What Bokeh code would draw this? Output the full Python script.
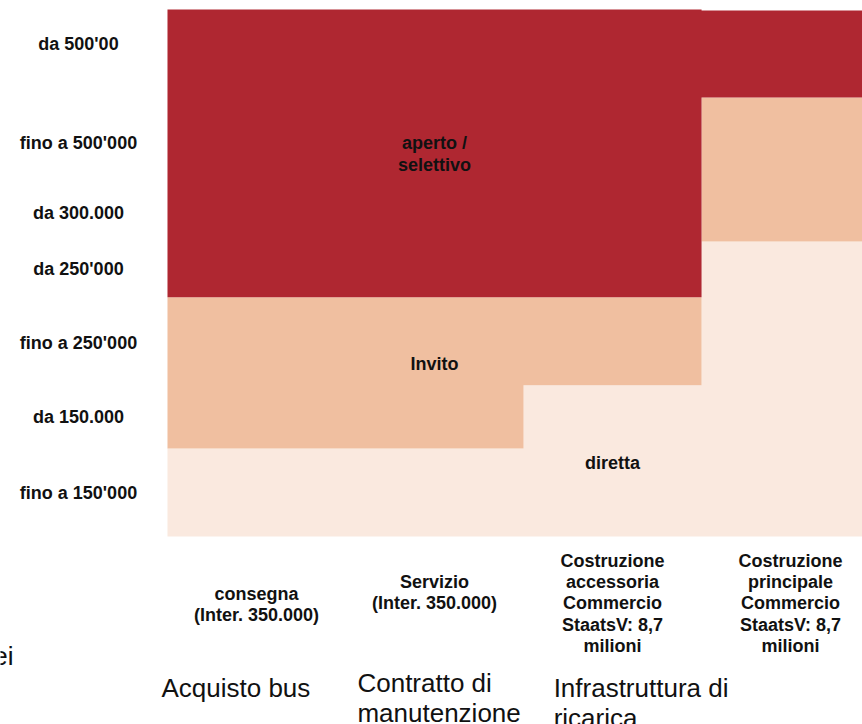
from bokeh.plotting import figure
from bokeh.models import Range1d
from bokeh.core.properties import value
from bokeh.embed import file_html
from bokeh.resources import INLINE

# ---------------- data ----------------
columns = [
    "consegna\n(Inter. 350.000)",
    "Servizio\n(Inter. 350.000)",
    "Costruzione\naccessoria\nCommercio\nStaatsV: 8,7\nmilioni",
    "Costruzione\nprincipale\nCommercio\nStaatsV: 8,7\nmilioni",
]
groups = ["Acquisto bus", "Contratto di\nmanutenzione", "Infrastruttura di\nricarica"]
bands = ["diretta", "Invito", "aperto /\nselettivo"]
# upper limit of each band per column (relative scale 0-100)
diretta_top = [16.7, 16.7, 28.7, 56.0]
invito_top = [45.4, 45.4, 45.4, 83.3]
aperto_top = [100.0, 100.0, 100.0, 99.8]
tick_labels = ["fino a 150'000", "da 150.000", "fino a 250'000", "da 250'000",
               "da 300.000", "fino a 500'000", "da 500'00"]
tick_values = [8.2, 22.6, 36.8, 50.7, 61.3, 74.6, 93.5]
band_colors = ["#FAE9DF", "#F0BFA0", "#AF2731"]

FONT = value("Liberation Sans")

p = figure(width=862, height=724, output_backend="svg", toolbar_location=None,
           x_range=Range1d(-0.938, 3.904), y_range=Range1d(-35.67, 101.71),
           min_border=0)
p.axis.visible = False
p.grid.visible = False
p.outline_line_color = None
p.background_fill_color = "white"

n = len(columns)
edges = list(range(n + 1))
bottoms = [[0.0] * n, diretta_top, invito_top]
tops = [diretta_top, invito_top, aperto_top]
for b, t, c in zip(bottoms, tops, band_colors):
    p.varea_step(x=edges, y1=list(b) + [b[-1]], y2=list(t) + [t[-1]],
                 step_mode="after", fill_color=c)

# y labels
p.text(x=[-0.5] * len(tick_values), y=tick_values, text=tick_labels,
       text_font=FONT, text_font_style="bold", text_font_size="18px",
       text_align="center", text_baseline="middle", text_color="#111111")

# band labels
p.text(x=[2.5, 1.5, 1.5], y=[14.0, 32.8, 72.5], text=bands,
       text_font=FONT, text_font_style="bold", text_font_size="18px",
       text_align="center", text_baseline="middle", text_color="#111111",
       text_line_height=1.1)

# column labels
p.text(x=[i + 0.5 for i in range(n)], y=[-12.9, -10.6, -12.7, -12.7], text=columns,
       text_font=FONT, text_font_style="bold", text_font_size="18px",
       text_align="center", text_baseline="middle", text_color="#111111",
       text_line_height=1.07)

# group labels
p.text(x=[-0.034, 1.067, 2.169], y=[-28.8, -30.7, -31.6], text=groups,
       text_font=FONT, text_font_size="26px", text_align="left",
       text_baseline="middle", text_color="#111111", text_line_height=1.01)

p.text(x=[-0.865], y=[-22.6], text=["ei"], text_font=FONT, text_font_size="26px",
       text_align="right", text_baseline="middle", text_color="#111111")

open("out.html", "w").write(file_html(p, INLINE))
